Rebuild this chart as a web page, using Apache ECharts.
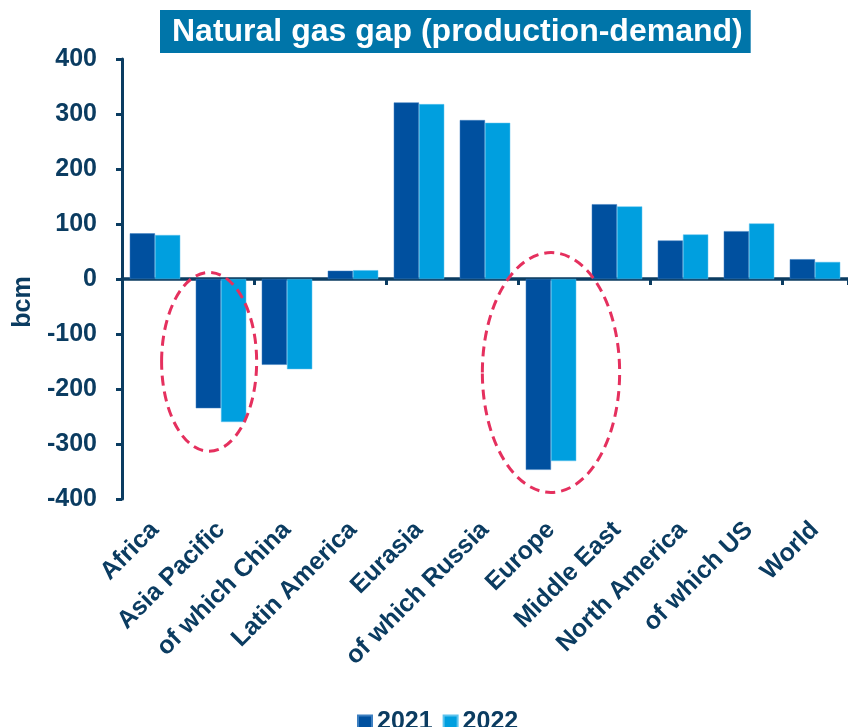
<!DOCTYPE html>
<html>
<head>
<meta charset="utf-8">
<script src="https://cdn.jsdelivr.net/npm/echarts@6/dist/echarts.min.js"></script>
<style>
  html, body { margin: 0; padding: 0; background: #fff; }
  #gasGapChart { width: 848px; height: 727px; }
</style>
</head>
<body>
<div id="gasGapChart"></div>
<script>
const regions = ['Africa', 'Asia Pacific', 'of which China', 'Latin America', 'Eurasia',
  'of which Russia', 'Europe', 'Middle East', 'North America', 'of which US', 'World'];
const gap2021 = [83, -235, -156, 15, 321, 289, -347, 136, 70, 87, 36];
const gap2022 = [80, -260, -164, 16, 318, 284, -331, 132, 81, 101, 31];
const yTicks = [-400, -300, -200, -100, 0, 100, 200, 300, 400];

const navy = '#0b3c61';
const font = 'Liberation Sans, Arial, sans-serif';

const chartDom = document.getElementById('gasGapChart');
const myChart = echarts.init(chartDom, null, { renderer: 'canvas' });

myChart.setOption({
  animation: false,
  title: {
    text: 'Natural gas gap (production-demand)',
    left: 160,
    top: 10,
    padding: [6, 8, 5, 12],
    backgroundColor: '#0075a9',
    textStyle: { color: '#fff', fontSize: 32, fontWeight: 'bold', fontFamily: font }
  },
  legend: {
    left: 352,
    top: 705,
    icon: 'rect',
    itemWidth: 14,
    itemHeight: 14,
    itemGap: 10,
    textStyle: { color: navy, fontSize: 25, fontWeight: 'bold', fontFamily: font }
  },
  grid: { left: 122, right: -2, top: 59, bottom: 228, containLabel: false },
  xAxis: [
    {
      type: 'category',
      data: regions,
      position: 'bottom',
      axisLine: { show: false, onZero: false },
      axisTick: { show: false },
      axisLabel: {
        interval: 0,
        rotate: 45,
        margin: 27,
        color: navy,
        fontSize: 25,
        fontWeight: 'bold',
        fontFamily: font
      }
    },
    {
      type: 'category',
      data: regions,
      position: 'top',
      axisLine: { show: true, onZero: true, lineStyle: { color: navy, width: 3.5 } },
      axisTick: { show: true, inside: true, length: 6, lineStyle: { color: navy, width: 3 } },
      axisLabel: { show: false }
    }
  ],
  yAxis: {
    type: 'value',
    min: yTicks[0],
    max: yTicks[yTicks.length - 1],
    interval: 100,
    name: 'bcm',
    nameLocation: 'middle',
    nameGap: 84,
    nameRotate: 90,
    nameTextStyle: { color: navy, fontSize: 25, fontWeight: 'bold', fontFamily: font, padding: [0, 46, 0, 0] },
    axisLine: { show: true, onZero: false, lineStyle: { color: navy, width: 3 } },
    axisTick: { show: true, length: 6, lineStyle: { color: navy, width: 3 } },
    splitLine: { show: false },
    axisLabel: { margin: 25, color: navy, fontSize: 25, fontWeight: 'bold', fontFamily: font }
  },
  series: [
    {
      name: '2021',
      type: 'bar',
      data: gap2021,
      barGap: '0%',
      barCategoryGap: '23.5%',
      itemStyle: { color: '#00509f', borderColor: '#3d7fc0', borderWidth: 0.5 }
    },
    {
      name: '2022',
      type: 'bar',
      data: gap2022,
      itemStyle: { color: '#009fdf', borderColor: '#5cc3ee', borderWidth: 0.5 }
    }
  ]
});

// dashed ellipses around the two big importers, placed through the axes
const highlights = [
  { cat: 'Asia Pacific', shift: -0.18, halfWidth: 0.72, top: 12, bottom: -313 },
  { cat: 'Europe', shift: 0, halfWidth: 1.04, top: 48, bottom: -388 }
];
const bandW = myChart.convertToPixel({ xAxisIndex: 0 }, 1) - myChart.convertToPixel({ xAxisIndex: 0 }, 0);
myChart.setOption({
  graphic: highlights.map((h) => {
    const cx = myChart.convertToPixel({ xAxisIndex: 0 }, h.cat) + h.shift * bandW;
    const yTop = myChart.convertToPixel({ yAxisIndex: 0 }, h.top);
    const yBot = myChart.convertToPixel({ yAxisIndex: 0 }, h.bottom);
    return {
      type: 'ellipse',
      z: 100,
      shape: { cx: cx, cy: (yTop + yBot) / 2, rx: h.halfWidth * bandW, ry: (yBot - yTop) / 2 },
      style: { fill: 'none', stroke: '#e5305e', lineWidth: 3, lineDash: [10, 6] }
    };
  })
});
</script>
</body>
</html>
